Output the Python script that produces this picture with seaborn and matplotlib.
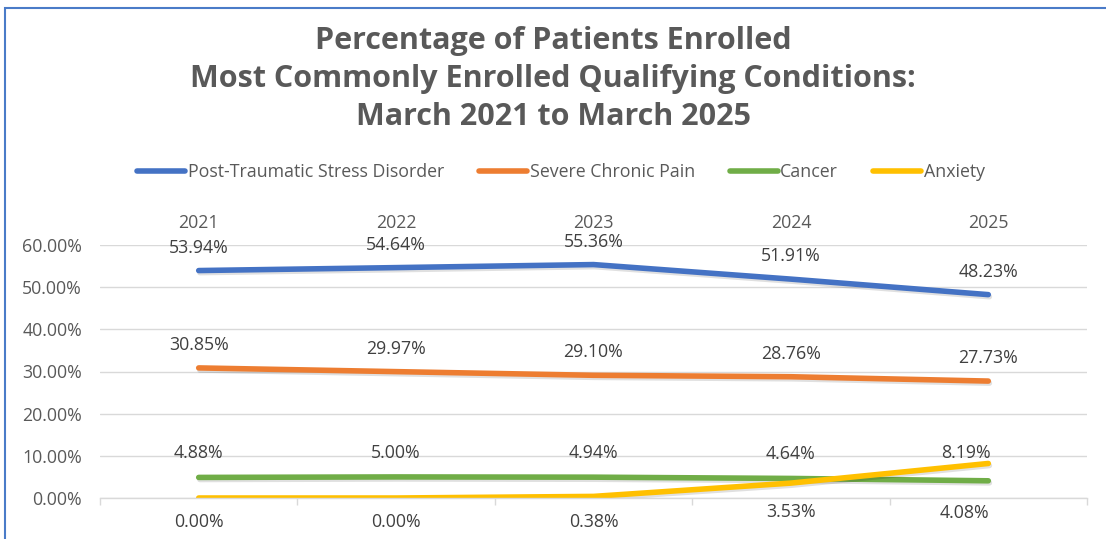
import matplotlib
matplotlib.use("Agg")
import matplotlib.pyplot as plt
import seaborn as sns
import pandas as pd
from matplotlib import patheffects as pe
from matplotlib.ticker import FuncFormatter, FixedLocator
from matplotlib.patches import Rectangle

# ---------------- data ----------------
years = ["2021", "2022", "2023", "2024", "2025"]
series_names = ["Post-Traumatic Stress Disorder", "Severe Chronic Pain", "Cancer", "Anxiety"]
ptsd = [53.94, 54.64, 55.36, 51.91, 48.23]
pain = [30.85, 29.97, 29.10, 28.76, 27.73]
cancer = [4.88, 5.00, 4.94, 4.64, 4.08]
anxiety = [0.00, 0.00, 0.38, 3.53, 8.19]
y_ticks = [0, 10, 20, 30, 40, 50, 60]
title = "Percentage of Patients Enrolled\nMost Commonly Enrolled Qualifying Conditions:\nMarch 2021 to March 2025"

# ---------------- style ----------------
colors = ["#4472C4", "#ED7D31", "#70AD47", "#FFC000"]
# label offsets in pixels (dx, dy), per series per point
label_offsets = [
    [(0, 23)] * 5,
    [(0, 23)] * 5,
    [(0, 24), (0, 24), (0, 24), (0, 24), (-24, -32)],
    [(0, -24), (0, -24), (0, -26), (0, -29), (-22, 10)],
]
text_gray = "#595959"
grid_gray = "#D9D9D9"
fs = 12.8

values = [ptsd, pain, cancer, anxiety]
rows = []
for name, vals in zip(series_names, values):
    for i, v in enumerate(vals):
        rows.append({"pos": i, "year": years[i], "series": name, "value": v})
df = pd.DataFrame(rows)

sns.set_theme(style="white")
plt.rcParams['font.family'] = ['Open Sans', 'DejaVu Sans']

W, H = 1106, 539
fig = plt.figure(figsize=(W / 100, H / 100), dpi=100)
fig.patch.set_facecolor("white")
ax = fig.add_axes([100 / W, 41 / H, 987 / W, 253 / H])

shadow = [pe.SimpleLineShadow(offset=(0.8, -1.5), alpha=0.12, shadow_color="black"), pe.Normal()]
sns.lineplot(data=df, x="pos", y="value", hue="series", hue_order=series_names,
             palette=colors, linewidth=4.0, ax=ax, legend=False, sort=False,
             path_effects=shadow, solid_capstyle="round")

ax.set_xlim(-0.5, len(years) - 0.5)
ax.set_ylim(0, 60)
ax.set_xlabel("")
ax.set_ylabel("")

# y axis
ax.yaxis.set_major_locator(FixedLocator(y_ticks))
ax.yaxis.set_major_formatter(FuncFormatter(lambda v, p: f"{v:.2f}%"))
ax.grid(axis="y", color=grid_gray, linewidth=1.0)
ax.set_axisbelow(True)
ax.tick_params(axis="y", length=0, pad=13, labelsize=fs, labelcolor=text_gray)

# x axis: category labels on top, tick marks at category boundaries at bottom
ax.set_xticks(range(len(years)))
ax.set_xticklabels(years)
ax.tick_params(axis="x", which="major", bottom=False, top=False, labelbottom=False,
               labeltop=True, pad=3, labelsize=fs, labelcolor=text_gray)
ax.set_xticks([i - 0.5 for i in range(len(years) + 1)], minor=True)
ax.tick_params(axis="x", which="minor", bottom=True, length=5, width=1, color=grid_gray)

for s in ["top", "left", "right"]:
    ax.spines[s].set_visible(False)
ax.spines["bottom"].set_color(grid_gray)
ax.spines["bottom"].set_linewidth(1.0)

# data labels
for si, vals in enumerate(values):
    for i, v in enumerate(vals):
        dx, dy = label_offsets[si][i]
        ax.annotate(f"{v:.2f}%", (i, v), xytext=(dx * 0.72, dy * 0.72),
                    textcoords="offset points", ha="center", va="center",
                    fontsize=fs, color="#404040", annotation_clip=False)

# legend
handles = [plt.Line2D([0], [0], color=c, linewidth=4.0, solid_capstyle="round") for c in colors]
fig.legend(handles, series_names, loc="center", bbox_to_anchor=(561 / W, 1 - 172 / H),
           ncol=4, frameon=False, fontsize=fs, handlelength=2.7, handletextpad=0.15,
           columnspacing=1.95, labelcolor=text_gray)

# title
fig.text(553 / W, 1 - 79 / H, title, ha="center", va="center", fontsize=22,
         fontweight="bold", color=text_gray, linespacing=1.34)

# blue frame
fig.add_artist(Rectangle((5 / W, -0.2), 1.5, (H - 8) / H + 0.2, transform=fig.transFigure,
                         fill=False, edgecolor="#4A7BC8", linewidth=1.5))

fig.savefig("out.png", dpi=100)
